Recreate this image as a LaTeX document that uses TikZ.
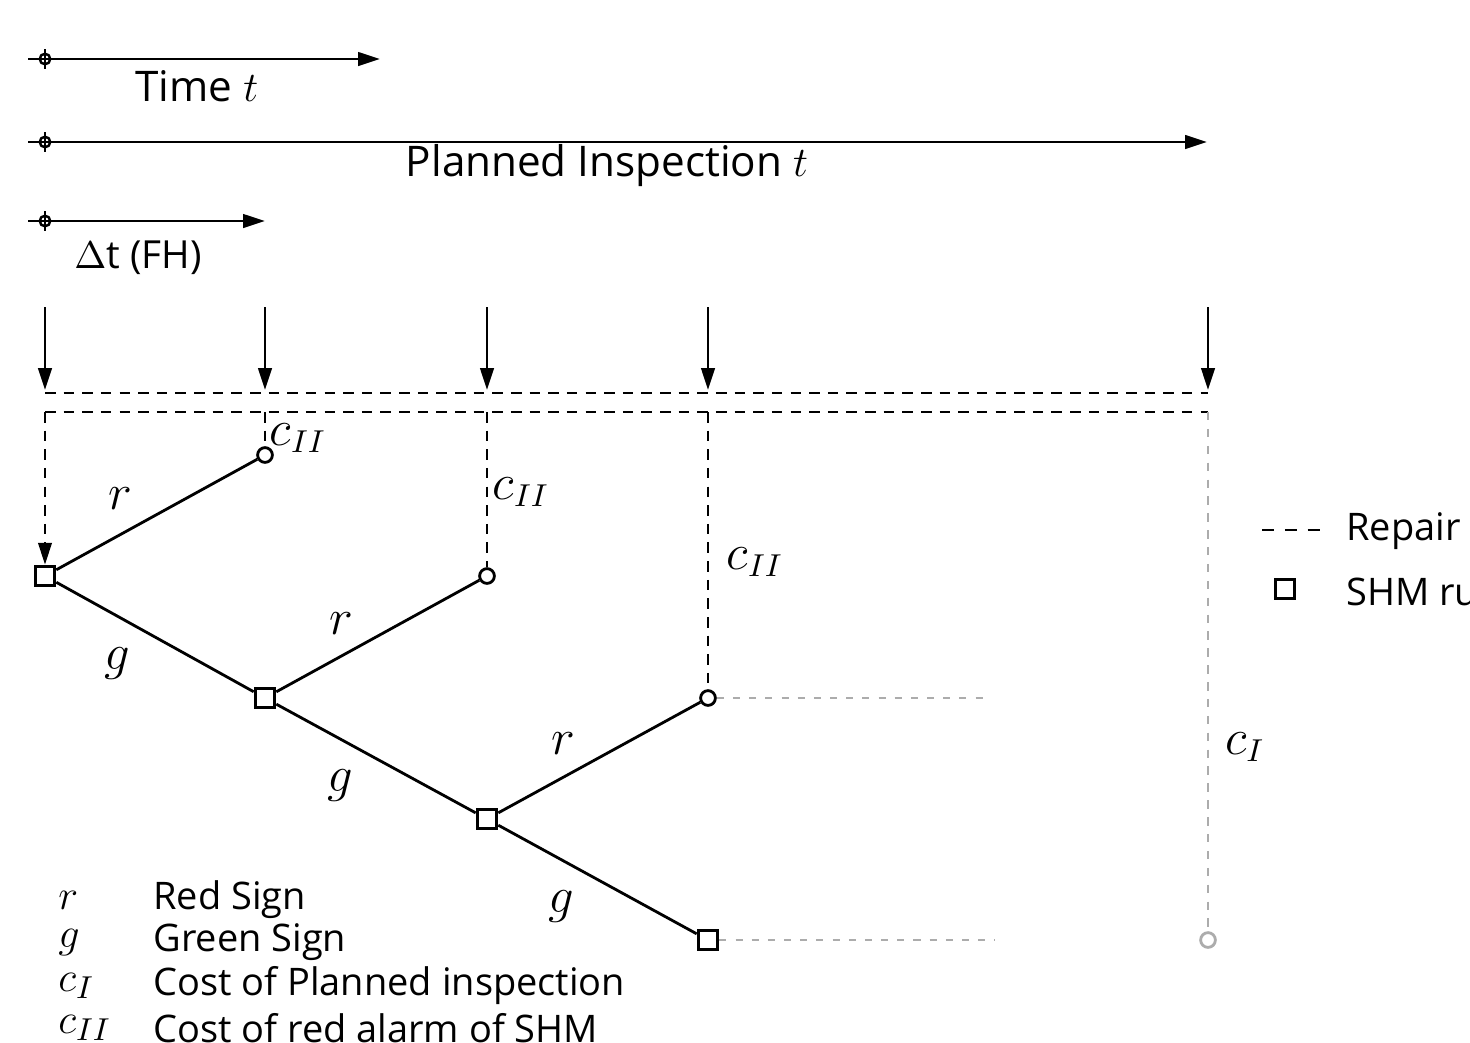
\documentclass[tikz,border=0pt]{standalone}
\usepackage{fontspec}
\setmainfont{Open Sans}
\usetikzlibrary{arrows.meta, positioning}

\begin{document}
\begin{tikzpicture}[
    x=0.01cm, y=-0.01cm,
    >={Triangle[length=6.2pt, width=3.8pt]},
    % Styles
    shm/.style={draw, rectangle, line width=0.85pt, minimum size=5.6pt, inner sep=0pt, fill=white},
    chance/.style={draw, circle, line width=0.8pt, minimum size=4.2pt, inner sep=0pt, fill=white},
    branch/.style={line width=0.8pt},
    repair/.style={line width=0.8pt, dash pattern=on 3pt off 2.3pt},
    idle/.style={line width=0.7pt, gray!65, dash pattern=on 2pt off 2.6pt},
    axis_line/.style={->, line width=0.8pt},
    big_text/.style={font=\fontsize{12}{14}\selectfont},
    leg_text/.style={font=\fontsize{10.8}{12}\selectfont, anchor=west},
    leg_sym/.style={font=\fontsize{12.5}{14}\selectfont, anchor=west},
    edge_lbl/.style={font=\fontsize{14}{16}\selectfont},
    cost_lbl/.style={font=\fontsize{13.5}{15}\selectfont}
]
\useasboundingbox (0,0) rectangle (1470,1042);

% 1. Time axes
\foreach \y/\xend in {59/380, 142/1207, 221/265} {
    \coordinate (ax_start) at (28,\y);
    \coordinate (ax_end) at (\xend,\y);
    \draw[axis_line] (ax_start) -- (ax_end);
    \draw[line width=0.7pt] (45,\y) circle (1.5pt);
    \draw[line width=0.7pt] (45,\y-10) -- (45,\y+10);
}
\node[big_text] (lbl_time) at (197,86) {Time $t$};
\node[big_text] (lbl_plan) at (607,166) {Planned Inspection $t$};
\node[big_text, font=\fontsize{11}{13}\selectfont, anchor=west] (lbl_dt) at (62,258) {$\Delta$t (FH)};

% 2. Inspection instants
\foreach \x [count=\i] in {45,265,487,708,1208} {
    \coordinate (top\i) at (\x,307);
    \coordinate (tip\i) at (\x,390);
    \coordinate (up\i) at (\x,393);
    \coordinate (lo\i) at (\x,412);
    \draw[axis_line] (top\i) -- (tip\i);
}
\draw[repair] (up1) -- (up5);
\draw[repair] (lo1) -- (lo5);

% 3. Decision tree
\node[shm] (s1) at (45,576) {};
\node[shm] (s2) at (265,698) {};
\node[shm] (s3) at (487,819) {};
\node[shm] (s4) at (708,940) {};
\node[chance] (o1) at (265,455) {};
\node[chance] (o2) at (487,576) {};
\node[chance] (o3) at (708,698) {};
\node[chance, draw=gray!65] (oI) at (1208,940) {};

\draw[branch] (s1) -- (o1);
\draw[branch] (s1) -- (s2);
\draw[branch] (s2) -- (o2);
\draw[branch] (s2) -- (s3);
\draw[branch] (s3) -- (o3);
\draw[branch] (s3) -- (s4);

\node[edge_lbl] (r1) at (120,499) {$r$};
\node[edge_lbl] (g1) at (117,664) {$g$};
\node[edge_lbl] (r2) at (341,624) {$r$};
\node[edge_lbl] (g2) at (340,786) {$g$};
\node[edge_lbl] (r3) at (563,744) {$r$};
\node[edge_lbl] (g3) at (561,907) {$g$};

% 4. Repair paths
\draw[repair, ->] (lo1) -- (s1);
\draw[repair] (lo2) -- (o1);
\draw[repair] (lo3) -- (o2);
\draw[repair] (lo4) -- (o3);
\draw[line width=0.7pt, gray!65, dash pattern=on 2.4pt off 2.4pt] (lo5) -- (oI);
\coordinate (o3_end) at (990,698);
\coordinate (s4_end) at (995,940);
\draw[idle] (o3) -- (o3_end);
\draw[idle] (s4) -- (s4_end);

\node[cost_lbl] (c1) at (298,438) {$c_{II}$};
\node[cost_lbl] (c2) at (521,492) {$c_{II}$};
\node[cost_lbl] (c3) at (755,562) {$c_{II}$};
\node[cost_lbl] (c4) at (1245,747) {$c_{I}$};

% 5. Legend (right)
\coordinate (rep_a) at (1262,530);
\coordinate (rep_b) at (1323,530);
\draw[line width=0.8pt, dash pattern=on 3.5pt off 3pt] (rep_a) -- (rep_b);
\node[leg_text] (lbl_repair) at (1334,531) {Repair};
\node[shm] (leg_shm) at (1285,589) {};
\node[leg_text] (lbl_shm) at (1334,592) {SHM ru};

% 6. Legend (bottom)
\foreach \sym/\txt/\y in {r/Red Sign/900, g/Green Sign/942, c_{I}/Cost of Planned inspection/986, c_{II}/Cost of red alarm of SHM/1028} {
    \node[leg_sym] at (46,\y) {$\sym$};
    \node[leg_text] at (141,\y) {\txt};
}

\end{tikzpicture}
\end{document}
